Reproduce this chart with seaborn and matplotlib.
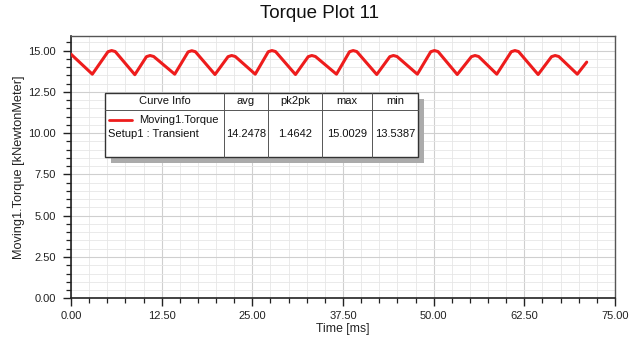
import numpy as np
import pandas as pd
import matplotlib
matplotlib.use("Agg")
import matplotlib.pyplot as plt
import seaborn as sns
from matplotlib.patches import Rectangle
from matplotlib.lines import Line2D
from matplotlib.ticker import MultipleLocator, FormatStrFormatter

# ---- data ----
time_ms = [0.0, 2.94,
           5.1, 5.6, 6.1, 8.8,
           10.4, 10.9, 11.4, 14.3,
           16.15, 16.65, 17.15, 19.85,
           21.65, 22.15, 22.65, 25.4,
           27.2, 27.7, 28.2, 30.95,
           32.7, 33.2, 33.7, 36.6,
           38.4, 38.9, 39.4, 42.15,
           43.95, 44.45, 44.95, 47.75,
           49.6, 50.1, 50.6, 53.25,
           55.2, 55.7, 56.2, 58.7,
           60.7, 61.2, 61.7, 64.4,
           66.25, 66.75, 67.25, 69.8,
           71.1]
torque = [14.78, 13.57,
          14.93, 15.00, 14.94, 13.54,
          14.63, 14.70, 14.64, 13.57,
          14.92, 14.99, 14.93, 13.55,
          14.63, 14.70, 14.64, 13.57,
          14.93, 15.00, 14.94, 13.55,
          14.63, 14.70, 14.64, 13.57,
          14.93, 15.00, 14.94, 13.55,
          14.63, 14.70, 14.64, 13.57,
          14.93, 15.00, 14.94, 13.55,
          14.63, 14.70, 14.64, 13.57,
          14.93, 15.00, 14.94, 13.55,
          14.63, 14.70, 14.64, 13.57,
          14.30]

title = "Torque Plot 11"
x_label = "Time [ms]"
y_label = "Moving1.Torque [kNewtonMeter]"
table_header = ["Curve Info", "avg", "pk2pk", "max", "min"]
curve_name = "Moving1.Torque"
curve_setup = "Setup1 : Transient"
stats = ["14.2478", "1.4642", "15.0029", "13.5387"]

# ---- style ----
sns.set_style("ticks")
plt.rcParams['font.family'] = ['Liberation Sans', 'DejaVu Sans']

W, H = 643, 341
fig = plt.figure(figsize=(W / 100, H / 100), dpi=100)

def fx(x):
    return x / W

def fy(y):
    return 1 - y / H

ax_l, ax_r, ax_t, ax_b = 71, 615, 35.7, 298.3
ax = fig.add_axes([fx(ax_l), fy(ax_b), (ax_r - ax_l) / W, (ax_b - ax_t) / H])

df = pd.DataFrame({"Time": time_ms, "Torque": torque})
sns.lineplot(data=df, x="Time", y="Torque", ax=ax, color="#ee1c1c",
             linewidth=2.2, sort=False, zorder=3)

ax.set_xlim(0, 75)
ax.set_ylim(0, 15.9)
ax.xaxis.set_major_locator(MultipleLocator(12.5))
ax.xaxis.set_minor_locator(MultipleLocator(2.5))
ax.yaxis.set_major_locator(MultipleLocator(2.5))
ax.yaxis.set_minor_locator(MultipleLocator(0.5))
ax.xaxis.set_major_formatter(FormatStrFormatter("%.2f"))
ax.yaxis.set_major_formatter(FormatStrFormatter("%.2f"))

ax.grid(which="major", color="#cfcfcf", linewidth=0.8)
ax.grid(which="minor", color="#e6e6e6", linewidth=0.6)
ax.set_axisbelow(True)

ax.tick_params(which="major", direction="out", length=6, width=1.0,
               labelsize=8, color="#222222", labelcolor="#222222")
ax.tick_params(axis="y", which="major", pad=5)
ax.tick_params(axis="x", which="major", pad=3)
ax.tick_params(which="minor", direction="out", length=3.5, width=0.9,
               color="#222222")

for s in ["left", "bottom"]:
    ax.spines[s].set_color("#222222")
    ax.spines[s].set_linewidth(1.2)
for s in ["top", "right"]:
    ax.spines[s].set_color("#555555")
    ax.spines[s].set_linewidth(1.0)

ax.set_xlabel(x_label, fontsize=8.8, color="#222222")
ax.set_ylabel(y_label, fontsize=9.2, color="#222222")
ax.xaxis.set_label_coords(0.5, (ax_b - 323) / (ax_b - ax_t))
ax.yaxis.set_label_coords((25 - ax_l) / (ax_r - ax_l), 0.5)

fig.text(fx(320), fy(14), title, ha="center", va="center",
         fontsize=13.5, color="#111111")

# ---- curve info table ----
bl, br, bt, bb = 105, 418, 93, 157
sh = 6
fig.add_artist(Rectangle((fx(bl + sh), fy(bb + sh)), (br - bl) / W, (bb - bt) / H,
                         transform=fig.transFigure, facecolor="#ababab",
                         edgecolor="none", zorder=5))
fig.add_artist(Rectangle((fx(bl), fy(bb)), (br - bl) / W, (bb - bt) / H,
                         transform=fig.transFigure, facecolor="white",
                         edgecolor="#333333", linewidth=1.0, zorder=6))
fig.add_artist(Line2D([fx(bl), fx(br)], [fy(110), fy(110)],
                      transform=fig.transFigure, color="#555555", lw=0.7, zorder=7))
for cx in [224, 268, 322, 372]:
    fig.add_artist(Line2D([fx(cx), fx(cx)], [fy(bt), fy(bb)],
                          transform=fig.transFigure, color="#555555", lw=0.7, zorder=7))

fs_tab = 8
header_x = [165, 246, 295, 347, 395]
for hx, txt in zip(header_x, table_header):
    fig.text(fx(hx), fy(101.5), txt, ha="center", va="center", fontsize=fs_tab,
             color="#111111", zorder=8)

fig.add_artist(Line2D([fx(109), fx(132)], [fy(120), fy(120)],
                      transform=fig.transFigure, color="#ee1c1c", lw=2.0, zorder=8))
fig.text(fx(139), fy(120), curve_name, ha="left", va="center", fontsize=fs_tab,
         color="#111111", zorder=8)
fig.text(fx(108), fy(134), curve_setup, ha="left", va="center", fontsize=fs_tab,
         color="#111111", zorder=8)
for hx, txt in zip(header_x[1:], stats):
    fig.text(fx(hx), fy(134), txt, ha="center", va="center", fontsize=fs_tab,
             color="#111111", zorder=8)

fig.savefig("out.png", dpi=100)
